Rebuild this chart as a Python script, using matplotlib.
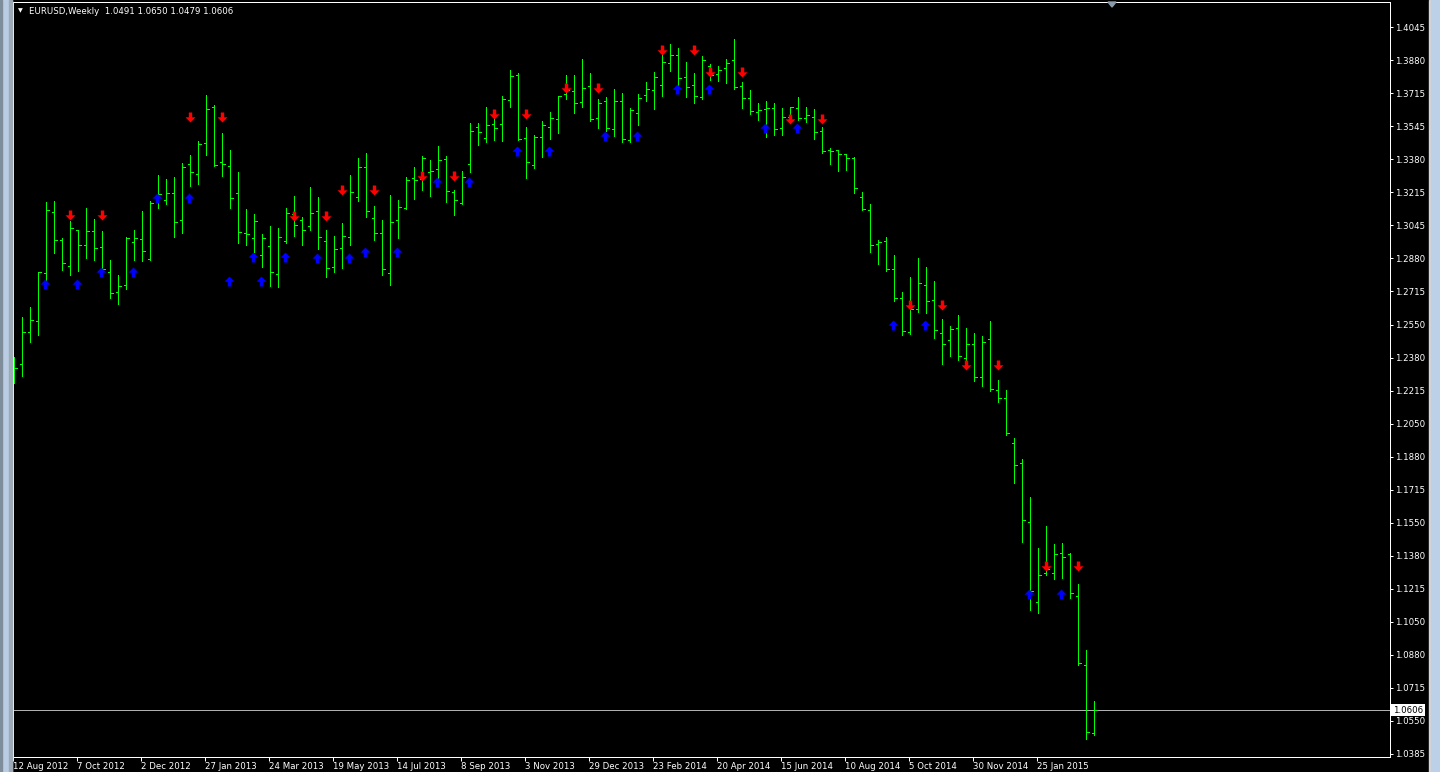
import numpy as np
import matplotlib
matplotlib.use('Agg')
import matplotlib.pyplot as plt
from matplotlib.path import Path
from matplotlib.patches import Rectangle, Polygon

# weekly EURUSD bars, week of 12 Aug 2012 onwards
opens = [
    1.2279, 1.2349, 1.2510, 1.2566, 1.2807, 1.3115, 1.2974, 1.2843,
    1.3024, 1.2948, 1.3019, 1.2938, 1.2812, 1.2712, 1.2747, 1.2964,
    1.2979, 1.2878, 1.3165, 1.3175, 1.3210, 1.3074, 1.3356, 1.3306,
    1.3462, 1.3644, 1.3367, 1.3346, 1.3210, 1.3009, 1.2984, 1.2898,
    1.2943, 1.2802, 1.2969, 1.3105, 1.3074, 1.3044, 1.3120, 1.2969,
    1.2838, 1.2933, 1.2989, 1.3190, 1.3341, 1.3084, 1.3009, 1.2807,
    1.3074, 1.3135, 1.3286, 1.3281, 1.3316, 1.3331, 1.3382, 1.3215,
    1.3160, 1.3356, 1.3543, 1.3487, 1.3558, 1.3558, 1.3679, 1.3805,
    1.3487, 1.3351, 1.3492, 1.3543, 1.3583, 1.3709, 1.3724, 1.3669,
    1.3749, 1.3588, 1.3674, 1.3533, 1.3674, 1.3477, 1.3613, 1.3704,
    1.3729, 1.3754, 1.3865, 1.3906, 1.3795, 1.3754, 1.3694, 1.3850,
    1.3810, 1.3840, 1.3880, 1.3749, 1.3689, 1.3618, 1.3634, 1.3639,
    1.3538, 1.3593, 1.3639, 1.3588, 1.3593, 1.3523, 1.3427, 1.3427,
    1.3407, 1.3387, 1.3190, 1.3125, 1.2954, 1.2969, 1.2828, 1.2682,
    1.2510, 1.2626, 1.2747, 1.2671, 1.2505, 1.2470, 1.2530, 1.2379,
    1.2450, 1.2284, 1.2475, 1.2218, 1.2178, 1.1951, 1.1850, 1.1553,
    1.1150, 1.1296, 1.1296, 1.1397, 1.1392, 1.1180, 1.0833, 1.0491,
]
highs = [
    1.2384, 1.2586, 1.2636, 1.2812, 1.3165, 1.3170, 1.2984, 1.3069,
    1.3024, 1.3135, 1.3079, 1.3019, 1.2873, 1.2797, 1.2989, 1.3024,
    1.3120, 1.3170, 1.3301, 1.3281, 1.3291, 1.3362, 1.3402, 1.3472,
    1.3704, 1.3654, 1.3513, 1.3427, 1.3316, 1.3130, 1.3105, 1.3004,
    1.3044, 1.3034, 1.3135, 1.3195, 1.3090, 1.3241, 1.3190, 1.3024,
    1.2994, 1.3059, 1.3301, 1.3387, 1.3412, 1.3145, 1.3074, 1.3200,
    1.3175, 1.3291, 1.3341, 1.3397, 1.3377, 1.3447, 1.3397, 1.3226,
    1.3321, 1.3563, 1.3563, 1.3644, 1.3583, 1.3699, 1.3830, 1.3815,
    1.3543, 1.3503, 1.3573, 1.3618, 1.3699, 1.3805, 1.3805, 1.3885,
    1.3815, 1.3684, 1.3694, 1.3734, 1.3714, 1.3639, 1.3709, 1.3770,
    1.3820, 1.3911, 1.3961, 1.3941, 1.3870, 1.3815, 1.3900, 1.3860,
    1.3850, 1.3885, 1.3986, 1.3770, 1.3729, 1.3664, 1.3674, 1.3664,
    1.3639, 1.3644, 1.3694, 1.3644, 1.3634, 1.3543, 1.3437, 1.3427,
    1.3407, 1.3392, 1.3215, 1.3155, 1.2974, 1.2989, 1.2898, 1.2712,
    1.2787, 1.2883, 1.2838, 1.2767, 1.2576, 1.2540, 1.2596, 1.2530,
    1.2505, 1.2490, 1.2566, 1.2268, 1.2218, 1.1976, 1.1871, 1.1679,
    1.1422, 1.1533, 1.1442, 1.1447, 1.1397, 1.1241, 1.0908, 1.0650,
]
lows = [
    1.2253, 1.2289, 1.2460, 1.2495, 1.2772, 1.2908, 1.2823, 1.2797,
    1.2818, 1.2883, 1.2873, 1.2823, 1.2682, 1.2651, 1.2727, 1.2873,
    1.2868, 1.2873, 1.3135, 1.3155, 1.2989, 1.3009, 1.3246, 1.3256,
    1.3402, 1.3346, 1.3296, 1.3135, 1.2959, 1.2948, 1.2913, 1.2838,
    1.2742, 1.2737, 1.2959, 1.2994, 1.2948, 1.3024, 1.2928, 1.2787,
    1.2812, 1.2833, 1.2948, 1.3170, 1.3090, 1.2974, 1.2797, 1.2747,
    1.2984, 1.3130, 1.3180, 1.3226, 1.3195, 1.3281, 1.3165, 1.3100,
    1.3155, 1.3316, 1.3452, 1.3467, 1.3477, 1.3472, 1.3644, 1.3477,
    1.3286, 1.3336, 1.3392, 1.3482, 1.3513, 1.3684, 1.3613, 1.3644,
    1.3573, 1.3538, 1.3523, 1.3497, 1.3467, 1.3467, 1.3553, 1.3674,
    1.3634, 1.3699, 1.3825, 1.3754, 1.3694, 1.3664, 1.3684, 1.3780,
    1.3775, 1.3764, 1.3734, 1.3639, 1.3608, 1.3578, 1.3492, 1.3503,
    1.3503, 1.3573, 1.3578, 1.3568, 1.3482, 1.3412, 1.3356, 1.3321,
    1.3326, 1.3210, 1.3125, 1.2913, 1.2853, 1.2818, 1.2666, 1.2495,
    1.2500, 1.2611, 1.2606, 1.2480, 1.2349, 1.2389, 1.2369, 1.2359,
    1.2263, 1.2238, 1.2213, 1.2158, 1.1991, 1.1750, 1.1452, 1.1110,
    1.1095, 1.1286, 1.1266, 1.1271, 1.1170, 1.0833, 1.0460, 1.0479,
]
closes = [
    1.2329, 1.2510, 1.2571, 1.2812, 1.3125, 1.2974, 1.2858, 1.3034,
    1.2948, 1.3019, 1.2933, 1.2828, 1.2707, 1.2742, 1.2984, 1.2984,
    1.2918, 1.3160, 1.3205, 1.3210, 1.3064, 1.3341, 1.3316, 1.3457,
    1.3634, 1.3351, 1.3356, 1.3185, 1.3014, 1.3004, 1.3069, 1.2984,
    1.2812, 1.2989, 1.3110, 1.3049, 1.3024, 1.3110, 1.2989, 1.2833,
    1.2928, 1.2994, 1.3215, 1.3341, 1.3120, 1.3009, 1.2828, 1.3064,
    1.3140, 1.3276, 1.3276, 1.3387, 1.3321, 1.3377, 1.3220, 1.3175,
    1.3291, 1.3523, 1.3518, 1.3553, 1.3538, 1.3684, 1.3800, 1.3482,
    1.3367, 1.3492, 1.3553, 1.3588, 1.3699, 1.3729, 1.3664, 1.3739,
    1.3583, 1.3664, 1.3538, 1.3674, 1.3482, 1.3628, 1.3689, 1.3734,
    1.3795, 1.3870, 1.3906, 1.3790, 1.3744, 1.3699, 1.3880, 1.3805,
    1.3830, 1.3865, 1.3744, 1.3689, 1.3623, 1.3628, 1.3639, 1.3533,
    1.3593, 1.3644, 1.3588, 1.3603, 1.3518, 1.3422, 1.3422, 1.3407,
    1.3387, 1.3236, 1.3130, 1.2948, 1.2964, 1.2828, 1.2682, 1.2515,
    1.2626, 1.2757, 1.2666, 1.2520, 1.2450, 1.2525, 1.2389, 1.2450,
    1.2284, 1.2460, 1.2223, 1.2178, 1.2002, 1.1840, 1.1563, 1.1206,
    1.1286, 1.1316, 1.1392, 1.1377, 1.1196, 1.0843, 1.0495, 1.0606,
]

# indicator arrows (bar index, price)
red_idx = [7, 11, 22, 26, 35, 39, 41, 45, 51, 55, 60, 64, 69, 73,
           81, 85, 87, 91, 97, 101, 112, 116, 119, 123, 129, 133]
red_px = [1.3100, 1.3100, 1.3593, 1.3593, 1.3095, 1.3095, 1.3226, 1.3226,
          1.3296, 1.3296, 1.3608, 1.3608, 1.3739, 1.3739, 1.3931, 1.3931,
          1.3820, 1.3820, 1.3583, 1.3583, 1.2646, 1.2646, 1.2344, 1.2344,
          1.1332, 1.1332]
blue_idx = [4, 8, 11, 15, 18, 22, 27, 31, 30, 34, 38, 42, 44, 48,
            53, 57, 63, 67, 74, 78, 83, 87, 94, 98, 110, 114, 127, 131]
blue_px = [1.2752, 1.2752, 1.2812, 1.2812, 1.3185, 1.3185, 1.2767, 1.2767,
           1.2888, 1.2888, 1.2883, 1.2883, 1.2913, 1.2913, 1.3266, 1.3266,
           1.3422, 1.3422, 1.3497, 1.3497, 1.3734, 1.3734, 1.3538, 1.3538,
           1.2545, 1.2545, 1.1190, 1.1190]

date_labels = ['12 Aug 2012', '7 Oct 2012', '2 Dec 2012', '27 Jan 2013', '24 Mar 2013',
               '19 May 2013', '14 Jul 2013', '8 Sep 2013', '3 Nov 2013', '29 Dec 2013',
               '23 Feb 2014', '20 Apr 2014', '15 Jun 2014', '10 Aug 2014', '5 Oct 2014',
               '30 Nov 2014', '25 Jan 2015']
price_labels = ['1.4045', '1.3880', '1.3715', '1.3545', '1.3380', '1.3215', '1.3045',
                '1.2880', '1.2715', '1.2550', '1.2380', '1.2215', '1.2050', '1.1880',
                '1.1715', '1.1550', '1.1380', '1.1215', '1.1050', '1.0880', '1.0715',
                '1.0550', '1.0385']

W, H = 1440, 772
fig = plt.figure(figsize=(W / 100, H / 100), dpi=100, facecolor='black')
L, R, T, B = 13.3, 1389.5, 2.0, 756.5
ax = fig.add_axes([L / W, 1 - B / H, (R - L) / W, (B - T) / H], facecolor='black')

green = '#00FF00'
idx = np.arange(len(closes))
ax.vlines(idx, lows, highs, color=green, lw=0.72, antialiased=False)
ax.hlines(opens, idx - 0.3, idx, color=green, lw=0.72, antialiased=False)
ax.hlines(closes, idx, idx + 0.3, color=green, lw=0.72, antialiased=False)

# thick arrow markers
dv = [(-0.17, 0.5), (0.17, 0.5), (0.17, 0.02), (0.5, 0.02), (0.0, -0.5),
      (-0.5, 0.02), (-0.17, 0.02), (-0.17, 0.5)]
codes = [Path.MOVETO] + [Path.LINETO] * 6 + [Path.CLOSEPOLY]
down_arrow = Path(dv, codes)
up_arrow = Path([(x, -y) for x, y in dv], codes)
ax.plot(red_idx, red_px, ls='none', marker=down_arrow, ms=7.2, mfc='#FF0000', mec='#FF0000', mew=0)
ax.plot(np.array(blue_idx) - 0.12, blue_px, ls='none', marker=up_arrow, ms=7.2,
        mfc='#0000FF', mec='#0000FF', mew=0)

# current price line + label
last = closes[-1]
ax.axhline(last, color='#B0B0B0', lw=0.72, zorder=0.5)
ax.text(1.0025, last, f'{last:.4f}', transform=ax.get_yaxis_transform(), ha='left', va='center',
        fontsize=6.2, color='black', clip_on=False,
        bbox=dict(boxstyle='square,pad=0.18', fc='white', ec='none'))

ax.set_xlim(-0.125, (R - 14.3) / 8)
ax.set_ylim(1.0372, 1.4172)

ax.yaxis.tick_right()
ax.set_yticks(np.linspace(1.4045, 1.0385, len(price_labels)), price_labels)
ax.set_xticks(np.arange(len(date_labels)) * 8 - 0.125, date_labels)
for lab in ax.get_xticklabels():
    lab.set_ha('left')
ax.tick_params(axis='y', colors='white', length=2.2, width=0.72, pad=1.5, labelsize=6.2)
ax.tick_params(axis='x', colors='white', length=2.9, width=0.72, pad=1.0, labelsize=6.2)
for s in ax.spines.values():
    s.set_color('white')
    s.set_linewidth(0.72)

# header
o, h, l, c = opens[-1], highs[-1], lows[-1], closes[-1]
fig.text(20 / W, 1 - 11 / H, '\u25BC', color='white', fontsize=4.5, ha='center', va='center')
fig.text(29 / W, 1 - 11 / H, f'EURUSD,Weekly  {o:.4f} {h:.4f} {l:.4f} {c:.4f}',
         color='white', fontsize=6.2, ha='left', va='center')

# chart shift marker
fig.add_artist(Polygon([(1108 / W, 1 - 2 / H), (1116 / W, 1 - 2 / H), (1112 / W, 1 - 7 / H)],
                       closed=True, transform=fig.transFigure, color='#8A9AAA'))

# window frame bits
fig.add_artist(Rectangle((0, 0), 12 / W, 1, transform=fig.transFigure, color='#B9CCE3'))
fig.add_artist(Rectangle((0, 0), 2 / W, 1, transform=fig.transFigure, color='#7F8C99'))
fig.add_artist(Rectangle((9 / W, 0), 3 / W, 1, transform=fig.transFigure, color='#9DA9B5'))
fig.add_artist(Rectangle((1429 / W, 0), 2 / W, 1, transform=fig.transFigure, color='#D6D6D6'))
fig.add_artist(Rectangle((1431 / W, 0), 9 / W, 1, transform=fig.transFigure, color='#BCD0E8'))

fig.savefig('out.png', dpi=100, facecolor='black')
